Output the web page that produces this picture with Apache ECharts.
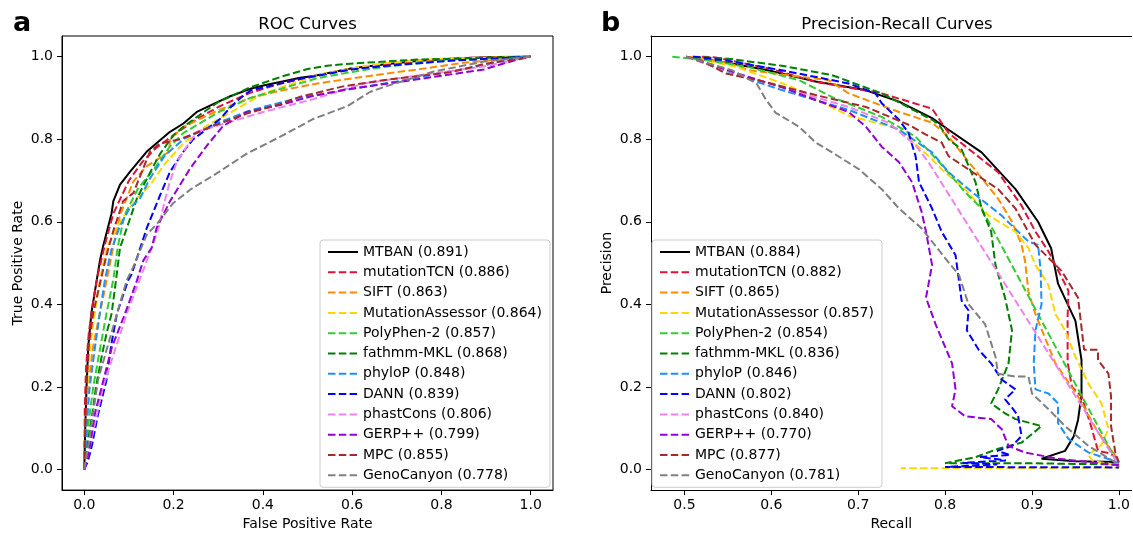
<!DOCTYPE html>
<html>
<head>
<meta charset="utf-8">
<script src="https://cdn.jsdelivr.net/npm/echarts@6/dist/echarts.min.js"></script>
<style>
html,body{margin:0;padding:0;background:#fff;}
#chart{width:1133px;height:536px;}
</style>
</head>
<body>
<div id="chart"></div>
<script>
// ---------- data ----------
const methodNames = ['MTBAN','mutationTCN','SIFT','MutationAssessor','PolyPhen-2','fathmm-MKL','phyloP','DANN','phastCons','GERP++','MPC','GenoCanyon'];
const rocAUC = ['0.891','0.886','0.863','0.864','0.857','0.868','0.848','0.839','0.806','0.799','0.855','0.778'];
const prAUC  = ['0.884','0.882','0.865','0.857','0.854','0.836','0.846','0.802','0.840','0.770','0.877','0.781'];
const tickValues = [0, 0.2, 0.4, 0.6, 0.8, 1.0];
const recallTicks = [0.5, 0.6, 0.7, 0.8, 0.9, 1.0];

// ROC curves: [FPR, TPR]
const rocMTBAN = [[0,0],[0.002,0.1],[0.005,0.2],[0.009,0.3],[0.016,0.38],[0.028,0.46],[0.035,0.506],[0.042,0.54],[0.061,0.62],[0.065,0.65],[0.08,0.69],[0.103,0.722],[0.14,0.77],[0.192,0.818],[0.222,0.838],[0.252,0.866],[0.297,0.889],[0.327,0.904],[0.372,0.922],[0.401,0.93],[0.484,0.949],[0.513,0.953],[0.6,0.972],[0.67,0.981],[0.75,0.99],[0.858,0.997],[0.92,0.999],[1,1]];
const rocTCN = [[0,0],[0.001,0.15],[0.004,0.25],[0.01,0.33],[0.02,0.41],[0.03,0.47],[0.045,0.54],[0.065,0.62],[0.1,0.70],[0.13,0.745],[0.16,0.778],[0.2,0.81],[0.25,0.848],[0.3,0.878],[0.37,0.912],[0.45,0.938],[0.55,0.96],[0.65,0.978],[0.75,0.99],[0.85,0.997],[1,1]];
const rocSIFT = [[0,0],[0.005,0.15],[0.012,0.23],[0.02,0.3],[0.035,0.38],[0.05,0.458],[0.065,0.54],[0.08,0.616],[0.11,0.698],[0.14,0.735],[0.177,0.76],[0.19,0.77],[0.192,0.80],[0.222,0.83],[0.3,0.87],[0.372,0.9],[0.45,0.92],[0.522,0.935],[0.63,0.952],[0.746,0.969],[0.85,0.985],[1,1]];
const rocMA = [[0,0],[0.003,0.12],[0.008,0.22],[0.013,0.297],[0.025,0.39],[0.035,0.458],[0.05,0.537],[0.07,0.58],[0.09,0.616],[0.12,0.66],[0.147,0.688],[0.18,0.74],[0.222,0.79],[0.27,0.83],[0.32,0.86],[0.4,0.91],[0.52,0.955],[0.6,0.972],[0.67,0.984],[0.8,0.995],[1,1]];
const rocPP2 = [[0,0],[0.008,0.1],[0.02,0.2],[0.036,0.297],[0.05,0.38],[0.065,0.46],[0.075,0.54],[0.09,0.616],[0.12,0.68],[0.162,0.736],[0.19,0.78],[0.222,0.815],[0.3,0.865],[0.372,0.9],[0.45,0.925],[0.522,0.948],[0.6,0.963],[0.67,0.975],[0.8,0.99],[1,1]];
const rocFathmm = [[0,0],[0.01,0.08],[0.02,0.15],[0.026,0.2],[0.04,0.28],[0.05,0.33],[0.061,0.377],[0.07,0.45],[0.08,0.537],[0.1,0.6],[0.118,0.657],[0.151,0.727],[0.17,0.765],[0.2,0.81],[0.222,0.83],[0.26,0.86],[0.3,0.89],[0.37,0.925],[0.446,0.953],[0.5,0.97],[0.544,0.978],[0.596,0.983],[0.746,0.993],[1,1]];
const rocPhyloP = [[0,0],[0.005,0.1],[0.012,0.2],[0.024,0.297],[0.035,0.38],[0.046,0.458],[0.06,0.53],[0.08,0.59],[0.1,0.63],[0.125,0.657],[0.147,0.705],[0.18,0.76],[0.222,0.8],[0.3,0.84],[0.372,0.87],[0.48,0.9],[0.596,0.921],[0.7,0.94],[0.82,0.964],[0.9,0.98],[0.97,0.998],[1,1]];
const rocDANN = [[0,0],[0.008,0.02],[0.017,0.058],[0.03,0.13],[0.05,0.218],[0.06,0.3],[0.073,0.377],[0.098,0.458],[0.106,0.473],[0.14,0.585],[0.17,0.665],[0.192,0.721],[0.222,0.77],[0.244,0.80],[0.275,0.825],[0.304,0.849],[0.33,0.88],[0.35,0.9],[0.372,0.918],[0.48,0.945],[0.596,0.969],[0.7,0.98],[0.82,0.99],[1,1]];
const rocPhastCons = [[0,0],[0.013,0.058],[0.042,0.2],[0.095,0.377],[0.151,0.537],[0.165,0.58],[0.18,0.65],[0.192,0.698],[0.207,0.745],[0.222,0.77],[0.237,0.794],[0.252,0.818],[0.327,0.842],[0.401,0.866],[0.513,0.897],[0.626,0.935],[0.75,0.955],[0.895,0.976],[1,1]];
const rocGERP = [[0,0],[0.01,0.04],[0.024,0.137],[0.062,0.297],[0.091,0.377],[0.118,0.458],[0.132,0.506],[0.151,0.537],[0.162,0.585],[0.192,0.65],[0.237,0.729],[0.275,0.785],[0.311,0.832],[0.364,0.866],[0.439,0.883],[0.513,0.905],[0.589,0.921],[0.746,0.945],[0.895,0.969],[0.97,0.993],[1,1]];
const rocMPC = [[0,0],[0.002,0.1],[0.005,0.2],[0.01,0.3],[0.02,0.38],[0.035,0.45],[0.05,0.52],[0.065,0.578],[0.087,0.65],[0.11,0.67],[0.147,0.77],[0.17,0.79],[0.215,0.80],[0.289,0.832],[0.364,0.862],[0.439,0.885],[0.484,0.903],[0.58,0.928],[0.67,0.943],[0.82,0.962],[0.895,0.982],[1,1]];
const rocGeno = [[0,0],[0.009,0.058],[0.031,0.218],[0.073,0.377],[0.095,0.458],[0.109,0.489],[0.14,0.569],[0.163,0.595],[0.199,0.645],[0.24,0.68],[0.289,0.712],[0.364,0.765],[0.439,0.806],[0.513,0.849],[0.589,0.88],[0.641,0.915],[0.67,0.926],[0.783,0.964],[0.895,0.988],[1,1]];

// Precision-Recall curves: [Recall, Precision]
const prMTBAN = [[0.502,1.0],[0.55,0.985],[0.6,0.965],[0.651,0.94],[0.708,0.919],[0.747,0.891],[0.785,0.851],[0.804,0.823],[0.842,0.768],[0.881,0.679],[0.907,0.6],[0.922,0.536],[0.93,0.45],[0.95,0.36],[0.957,0.265],[0.957,0.18],[0.953,0.12],[0.948,0.08],[0.938,0.045],[0.911,0.026],[0.95,0.02],[1.0,0.018]];
const prTCN = [[0.52,1.0],[0.536,0.998],[0.6,0.97],[0.651,0.939],[0.727,0.911],[0.785,0.874],[0.804,0.815],[0.861,0.72],[0.888,0.639],[0.904,0.576],[0.919,0.528],[0.942,0.433],[0.941,0.37],[0.941,0.26],[0.946,0.2],[0.957,0.177],[0.968,0.105],[0.976,0.045],[0.988,0.04],[1.0,0.026]];
const prSIFT = [[0.502,1.0],[0.55,0.985],[0.575,0.967],[0.62,0.955],[0.666,0.943],[0.689,0.911],[0.747,0.866],[0.785,0.84],[0.804,0.806],[0.831,0.735],[0.861,0.656],[0.877,0.6],[0.888,0.545],[0.892,0.505],[0.896,0.43],[0.904,0.376],[0.927,0.257],[0.953,0.177],[0.976,0.09],[0.996,0.033],[1.0,0.015]];
const prMA = [[0.502,1.0],[0.56,0.975],[0.62,0.93],[0.689,0.857],[0.747,0.825],[0.785,0.751],[0.796,0.727],[0.823,0.679],[0.85,0.615],[0.881,0.576],[0.896,0.536],[0.904,0.495],[0.919,0.447],[0.927,0.376],[0.938,0.337],[0.95,0.273],[0.965,0.208],[0.98,0.16],[0.988,0.098],[0.98,0.06],[0.965,0.035],[0.97,0.02],[1.0,0.01],[1.0,0.004],[0.749,0.003]];
const prPP2 = [[0.486,1.0],[0.53,0.99],[0.575,0.974],[0.632,0.943],[0.67,0.902],[0.727,0.854],[0.766,0.806],[0.793,0.745],[0.823,0.672],[0.842,0.632],[1.0,0.01]];
const prFathmm = [[0.51,1.0],[0.55,0.995],[0.612,0.978],[0.67,0.955],[0.727,0.911],[0.785,0.847],[0.793,0.835],[0.804,0.8],[0.819,0.775],[0.835,0.696],[0.842,0.632],[0.853,0.576],[0.858,0.495],[0.869,0.416],[0.877,0.337],[0.873,0.257],[0.861,0.194],[0.853,0.16],[0.869,0.136],[0.881,0.122],[0.911,0.105],[0.888,0.065],[0.861,0.05],[0.835,0.03],[0.8,0.015],[0.9,0.015],[1.0,0.012]];
const prPhyloP = [[0.502,1.0],[0.537,0.974],[0.575,0.945],[0.612,0.919],[0.689,0.871],[0.747,0.823],[0.785,0.768],[0.804,0.72],[0.831,0.672],[0.865,0.615],[0.896,0.552],[0.907,0.544],[0.91,0.481],[0.911,0.4],[0.904,0.337],[0.902,0.257],[0.904,0.194],[0.919,0.184],[0.93,0.16],[0.93,0.112],[0.942,0.074],[0.965,0.041],[1.0,0.017]];
const prDANN = [[0.51,1.0],[0.55,0.99],[0.612,0.967],[0.689,0.935],[0.72,0.911],[0.727,0.887],[0.747,0.847],[0.758,0.815],[0.766,0.759],[0.77,0.696],[0.785,0.632],[0.796,0.576],[0.812,0.519],[0.816,0.457],[0.819,0.409],[0.827,0.385],[0.825,0.337],[0.839,0.289],[0.853,0.257],[0.865,0.218],[0.881,0.194],[0.869,0.17],[0.877,0.15],[0.884,0.13],[0.888,0.081],[0.877,0.057],[0.86,0.045],[0.875,0.035],[0.84,0.03],[0.87,0.022],[0.82,0.016],[0.86,0.012],[0.8,0.006],[1.0,0.005]];
const prPhastCons = [[0.502,1.0],[0.537,0.974],[0.612,0.926],[0.689,0.878],[0.735,0.84],[0.766,0.785],[0.781,0.744],[1.0,0.01]];
const prGERP = [[0.502,1.0],[0.517,0.99],[0.575,0.95],[0.612,0.926],[0.651,0.895],[0.689,0.866],[0.709,0.83],[0.727,0.782],[0.747,0.744],[0.762,0.696],[0.773,0.624],[0.778,0.576],[0.785,0.495],[0.778,0.416],[0.789,0.352],[0.8,0.297],[0.808,0.257],[0.812,0.194],[0.808,0.153],[0.823,0.129],[0.853,0.122],[0.865,0.098],[0.873,0.057],[0.892,0.041],[0.93,0.026],[1.0,0.01]];
const prMPC = [[0.502,1.0],[0.52,0.99],[0.548,0.959],[0.594,0.938],[0.651,0.907],[0.709,0.878],[0.758,0.835],[0.778,0.811],[0.796,0.792],[0.804,0.759],[0.861,0.679],[0.881,0.632],[0.904,0.544],[0.934,0.481],[0.953,0.416],[0.957,0.344],[0.96,0.29],[0.976,0.29],[0.976,0.265],[0.988,0.232],[0.991,0.177],[0.991,0.105],[0.996,0.04],[1.0,0.017]];
const prGeno = [[0.502,1.0],[0.517,0.99],[0.555,0.967],[0.583,0.935],[0.594,0.895],[0.605,0.864],[0.632,0.83],[0.651,0.792],[0.67,0.768],[0.701,0.727],[0.727,0.679],[0.747,0.632],[0.773,0.584],[0.8,0.512],[0.816,0.471],[0.827,0.4],[0.846,0.352],[0.858,0.273],[0.861,0.232],[0.881,0.225],[0.896,0.225],[0.9,0.184],[0.919,0.146],[0.938,0.105],[0.965,0.057],[0.996,0.017],[1.0,0.015]];

const rocData = [rocMTBAN, rocTCN, rocSIFT, rocMA, rocPP2, rocFathmm, rocPhyloP, rocDANN, rocPhastCons, rocGERP, rocMPC, rocGeno];
const prData  = [prMTBAN, prTCN, prSIFT, prMA, prPP2, prFathmm, prPhyloP, prDANN, prPhastCons, prGERP, prMPC, prGeno];

// ---------- styles ----------
const colors = ['#000000','#DC143C','#FF8C00','#FFD700','#32CD32','#008000','#1E90FF','#0000FF','#EE82EE','#9400D3','#A52A2A','#808080'];
const FONT = 'DejaVu Sans';
const dash = [7.5, 3.3];

const rocNames = methodNames.map((n,i) => n + ' (' + rocAUC[i] + ')');
const prNames  = methodNames.map((n,i) => n + ' (' + prAUC[i] + ')');

function mkSeries(names, datas, xIdx, yIdx) {
  return names.map((nm, i) => ({
    name: nm,
    type: 'line',
    xAxisIndex: xIdx,
    yAxisIndex: yIdx,
    data: datas[i],
    symbol: 'none',
    showSymbol: false,
    smooth: false,
    clip: false,
    z: 2,
    lineStyle: { color: colors[i], width: 2, type: i === 0 ? 'solid' : dash },
    itemStyle: { color: colors[i] },
    emphasis: { disabled: true }
  }));
}

const fmt = v => v.toFixed(1);
const axisCommon = {
  type: 'value',
  splitLine: { show: false },
  axisLine: { show: true, onZero: false, lineStyle: { color: '#000', width: 1 } },
  axisTick: { show: true, inside: false, length: 5, lineStyle: { color: '#000', width: 1 } },
  nameLocation: 'middle',
  nameTextStyle: { fontFamily: FONT, fontSize: 14, color: '#000' }
};

function xAxis(idx, min, max, ticks, name) {
  return Object.assign({}, axisCommon, {
    gridIndex: idx, min: min, max: max, name: name, nameGap: 26,
    axisTick: Object.assign({}, axisCommon.axisTick, { customValues: ticks }),
    axisLabel: { customValues: ticks, formatter: fmt, margin: 8, fontFamily: FONT, fontSize: 14, color: '#000' }
  });
}
function yAxis(idx, name) {
  return Object.assign({}, axisCommon, {
    gridIndex: idx, min: -0.05, max: 1.05, name: name, nameGap: 37,
    axisTick: Object.assign({}, axisCommon.axisTick, { customValues: tickValues }),
    axisLabel: { customValues: tickValues, formatter: fmt, margin: 9, fontFamily: FONT, fontSize: 14, color: '#000' }
  });
}

const legendCommon = {
  orient: 'vertical',
  top: 240,
  itemWidth: 30,
  itemHeight: 14,
  itemGap: 6.3,
  padding: [5, 8, 5, 7],
  selectedMode: false,
  backgroundColor: 'rgba(255,255,255,0.8)',
  borderColor: '#cccccc',
  borderWidth: 1,
  borderRadius: 3,
  itemStyle: { opacity: 0, borderWidth: 0 },
  textStyle: { fontFamily: FONT, fontSize: 14, color: '#000' }
};

const titleStyle = { fontFamily: FONT, fontSize: 16.5, fontWeight: 'normal', color: '#000' };
const tagStyle = { fontFamily: FONT, fontSize: 27, fontWeight: 'bold', color: '#000' };

// recall axis: the right spine of panel b lies beyond the picture edge
const recallMin = 0.4615, recallMax = 1.0146;

const option = {
  backgroundColor: '#ffffff',
  animation: false,
  textStyle: { fontFamily: FONT },
  title: [
    { text: 'ROC Curves', left: 307.5, top: 16, padding: 0, textAlign: 'center', textStyle: titleStyle },
    { text: 'Precision-Recall Curves', left: 897, top: 16, padding: 0, textAlign: 'center', textStyle: titleStyle },
    { text: 'a', left: 13, top: 10, padding: 0, textStyle: tagStyle },
    { text: 'b', left: 601, top: 10, padding: 0, textStyle: tagStyle }
  ],
  grid: [
    { left: 62, top: 36, width: 491, height: 459, show: true, borderColor: '#000', borderWidth: 1, backgroundColor: 'transparent' },
    { left: 651, top: 36, right: 0, height: 459, show: false }
  ],
  xAxis: [
    xAxis(0, -0.05, 1.05, tickValues, 'False Positive Rate'),
    xAxis(1, recallMin, recallMax, recallTicks, 'Recall'),
    { type: 'value', gridIndex: 1, position: 'top', min: recallMin, max: recallMax,
      axisLine: { show: true, onZero: false, lineStyle: { color: '#000', width: 1 } },
      axisTick: { show: false }, axisLabel: { show: false }, splitLine: { show: false } }
  ],
  yAxis: [
    yAxis(0, 'True Positive Rate'),
    yAxis(1, 'Precision')
  ],
  legend: [
    Object.assign({}, legendCommon, { left: 320, data: rocNames }),
    Object.assign({}, legendCommon, { left: 652, data: prNames })
  ],
  series: mkSeries(rocNames, rocData, 0, 0).concat(mkSeries(prNames, prData, 1, 1))
};

const chart = echarts.init(document.getElementById('chart'), null, { renderer: 'canvas' });
chart.setOption(option);
</script>
</body>
</html>
